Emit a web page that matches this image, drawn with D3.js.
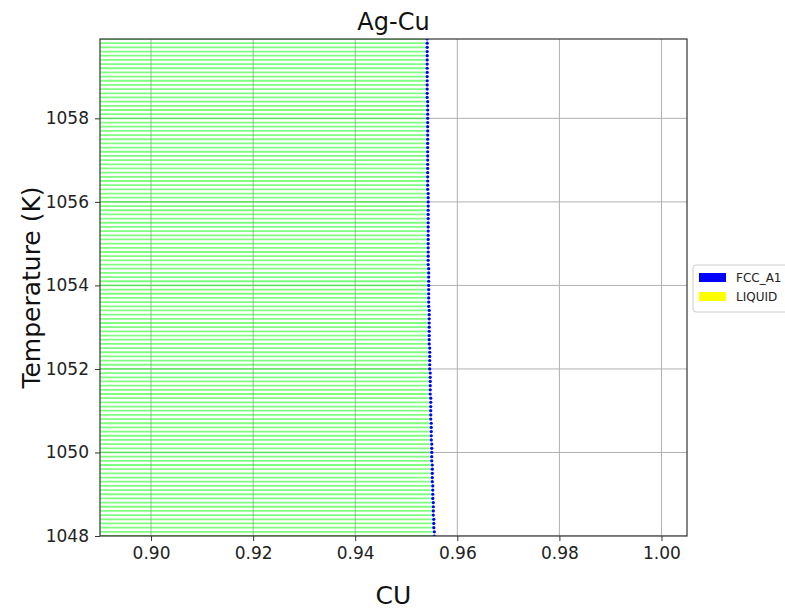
<!DOCTYPE html>
<html><head><meta charset="utf-8">
<script src="https://cdn.jsdelivr.net/npm/d3@7"></script>
<style>body{margin:0;background:#fff;} svg{font-family:"DejaVu Sans",sans-serif;}</style>
</head><body><svg id="c" width="785" height="612"></svg>
<script>
const temperatures = [
1048.0,1048.1,1048.2,1048.3,1048.4,1048.5,1048.6,1048.7,1048.8,1048.9,
1049.0,1049.1,1049.2,1049.3,1049.4,1049.5,1049.6,1049.7,1049.8,1049.9,
1050.0,1050.1,1050.2,1050.3,1050.4,1050.5,1050.6,1050.7,1050.8,1050.9,
1051.0,1051.1,1051.2,1051.3,1051.4,1051.5,1051.6,1051.7,1051.8,1051.9,
1052.0,1052.1,1052.2,1052.3,1052.4,1052.5,1052.6,1052.7,1052.8,1052.9,
1053.0,1053.1,1053.2,1053.3,1053.4,1053.5,1053.6,1053.7,1053.8,1053.9,
1054.0,1054.1,1054.2,1054.3,1054.4,1054.5,1054.6,1054.7,1054.8,1054.9,
1055.0,1055.1,1055.2,1055.3,1055.4,1055.5,1055.6,1055.7,1055.8,1055.9,
1056.0,1056.1,1056.2,1056.3,1056.4,1056.5,1056.6,1056.7,1056.8,1056.9,
1057.0,1057.1,1057.2,1057.3,1057.4,1057.5,1057.6,1057.7,1057.8,1057.9,
1058.0,1058.1,1058.2,1058.3,1058.4,1058.5,1058.6,1058.7,1058.8,1058.9,
1059.0,1059.1,1059.2,1059.3,1059.4,1059.5,1059.6,1059.7,1059.8,1059.9];
const fccBoundary = [
0.9555,0.9555,0.9554,0.9554,0.9554,0.9553,0.9553,0.9553,0.9553,0.9552,
0.9552,0.9552,0.9552,0.9551,0.9551,0.9551,0.9551,0.9551,0.9550,0.9550,
0.9550,0.9550,0.9550,0.9549,0.9549,0.9549,0.9549,0.9549,0.9548,0.9548,
0.9548,0.9548,0.9548,0.9548,0.9547,0.9547,0.9547,0.9547,0.9547,0.9547,
0.9546,0.9546,0.9546,0.9546,0.9546,0.9546,0.9545,0.9545,0.9545,0.9545,
0.9545,0.9545,0.9545,0.9545,0.9545,0.9544,0.9544,0.9544,0.9544,0.9544,
0.9544,0.9544,0.9544,0.9544,0.9544,0.9543,0.9543,0.9543,0.9543,0.9543,
0.9543,0.9543,0.9543,0.9543,0.9543,0.9543,0.9543,0.9543,0.9543,0.9543,
0.9543,0.9543,0.9543,0.9542,0.9542,0.9542,0.9542,0.9542,0.9542,0.9542,
0.9542,0.9542,0.9542,0.9542,0.9542,0.9542,0.9542,0.9542,0.9542,0.9542,
0.9542,0.9542,0.9542,0.9542,0.9542,0.9541,0.9541,0.9541,0.9541,0.9541,
0.9541,0.9541,0.9541,0.9541,0.9541,0.9541,0.9541,0.9541,0.9541,0.9541];
const tieStart = 0.0;
const xTicks = [0.90,0.92,0.94,0.96,0.98,1.00];
const yTicks = [1048,1050,1052,1054,1056,1058];
const phases = ["FCC_A1","LIQUID"];
const phaseColors = ["#0000ff","#ffff00"];
const title = "Ag-Cu", xLabel = "CU", yLabel = "Temperature (K)";

const svg = d3.select("#c");
const m = {l:100, t:39, w:587, h:497};
const x = d3.scaleLinear().domain([0.89,1.005]).range([m.l, m.l+m.w]);
const y = d3.scaleLinear().domain([1048,1059.9]).range([m.t+m.h, m.t]);

svg.append("defs").append("clipPath").attr("id","clip")
  .append("rect").attr("x",m.l).attr("y",m.t).attr("width",m.w).attr("height",m.h);

const plot = svg.append("g").attr("clip-path","url(#clip)");
// grid
plot.selectAll(".gx").data(xTicks).enter().append("line")
  .attr("x1",d=>x(d)).attr("x2",d=>x(d)).attr("y1",m.t).attr("y2",m.t+m.h)
  .attr("stroke","#b0b0b0").attr("stroke-width",1);
plot.selectAll(".gy").data(yTicks).enter().append("line")
  .attr("y1",d=>y(d)).attr("y2",d=>y(d)).attr("x1",m.l).attr("x2",m.l+m.w)
  .attr("stroke","#b0b0b0").attr("stroke-width",1);
// tie lines
plot.selectAll(".tie").data(temperatures).enter().append("line")
  .attr("x1",x(tieStart)).attr("x2",(d,i)=>x(fccBoundary[i]))
  .attr("y1",d=>y(d)).attr("y2",d=>y(d))
  .attr("stroke","#00ff00").attr("stroke-opacity",0.5).attr("stroke-width",1.8);
// boundary points
plot.selectAll(".pt").data(temperatures).enter().append("circle")
  .attr("cx",(d,i)=>x(fccBoundary[i])).attr("cy",d=>y(d)).attr("r",1.6)
  .attr("fill","#0000ff");

// frame
svg.append("rect").attr("x",m.l).attr("y",m.t).attr("width",m.w).attr("height",m.h)
  .attr("fill","none").attr("stroke","#333").attr("stroke-width",1.2);

// axes
const xa = svg.append("g").attr("transform",`translate(0,${m.t+m.h})`)
  .call(d3.axisBottom(x).tickValues(xTicks).tickFormat(d3.format(".2f")).tickSizeOuter(0).tickSize(5).tickPadding(6));
const ya = svg.append("g").attr("transform",`translate(${m.l},0)`)
  .call(d3.axisLeft(y).tickValues(yTicks).tickFormat(d3.format("d")).tickSizeOuter(0).tickSize(5).tickPadding(6));
[xa,ya].forEach(a=>{
  a.select(".domain").remove();
  a.selectAll("text").attr("font-size",17).attr("fill","#222").style("font-family","DejaVu Sans");
  a.selectAll("line").attr("stroke","#333");
});

svg.append("text").attr("x",m.l+m.w/2).attr("y",30).attr("text-anchor","middle")
  .attr("font-size",24).attr("fill","#111").text(title);
svg.append("text").attr("x",m.l+m.w/2).attr("y",604).attr("text-anchor","middle")
  .attr("font-size",25).attr("fill","#111").text(xLabel);
svg.append("text").attr("transform",`translate(40,${m.t+m.h/2}) rotate(-90)`).attr("text-anchor","middle")
  .attr("font-size",25).attr("fill","#111").text(yLabel);

// legend
const lg = svg.append("g").attr("transform","translate(693,265)");
lg.append("rect").attr("x",0).attr("y",0).attr("width",100).attr("height",47).attr("rx",3)
  .attr("fill","#fff").attr("stroke","#ccc");
phases.forEach((p,i)=>{
  lg.append("rect").attr("x",6).attr("y",8+i*19).attr("width",27).attr("height",9).attr("fill",phaseColors[i]);
  lg.append("text").attr("x",43).attr("y",17+i*19).attr("font-size",12).attr("fill","#222").text(p);
});
</script></body></html>
